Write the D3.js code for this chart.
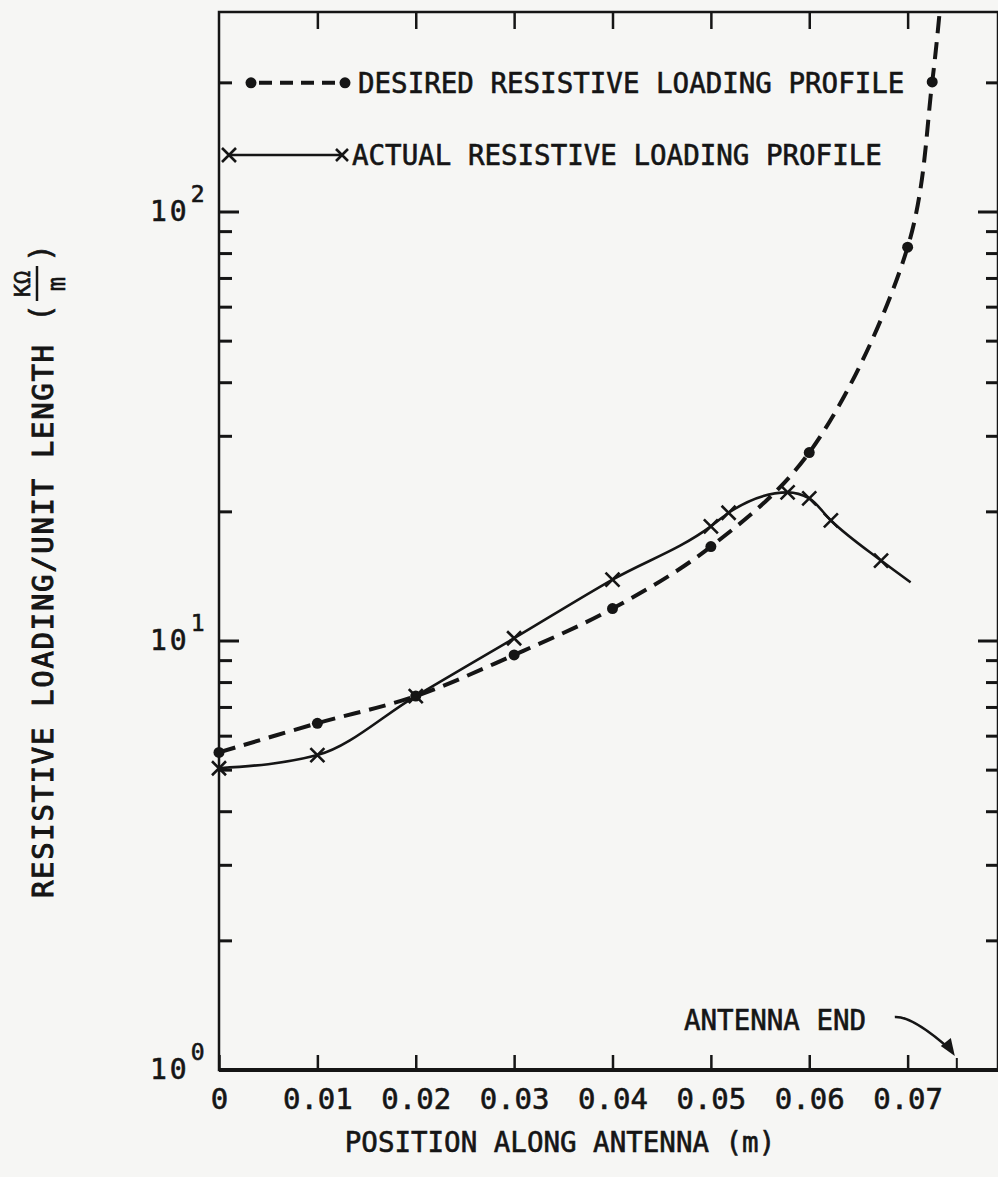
<!DOCTYPE html>
<html>
<head>
<meta charset="utf-8">
<script src="https://cdn.jsdelivr.net/npm/d3@7"></script>
<style>
body { margin: 0; background: #f6f6f4; }
svg { display: block; }
text { font-family: "DejaVu Sans Mono", monospace; fill: #151515; stroke: #151515; stroke-width: 0.6; }
</style>
</head>
<body>
<svg id="chart" width="998" height="1177"></svg>
<script>
// values (K ohm / m against position in m)
var desiredPos = [0, 0.01, 0.02, 0.03, 0.04, 0.05, 0.06, 0.07, 0.0725]
var desired = [5.5, 6.43, 7.44, 9.28, 11.9, 16.6, 27.5, 82.8, 201]
var desiredTail = [[0.0733, 300]] // runs off the top, no dot

var actualPos = [0, 0.01, 0.02, 0.03, 0.04, 0.05, 0.0518, 0.0578, 0.06, 0.0622, 0.0673]
var actual = [5.05, 5.42, 7.44, 10.15, 13.9, 18.5, 19.9, 22.2, 21.5, 19.1, 15.4]
var actualEnd = [[0.0703, 13.7]] // line stops here, no mark

var xTicks = [0, 0.01, 0.02, 0.03, 0.04, 0.05, 0.06, 0.07]
var antennaEnd = 0.075
var decades = [1, 10, 100]
var minors = [2, 3, 4, 5, 6, 7, 8, 9, 20, 30, 40, 50, 60, 70, 80, 90, 200]
var legendLabels = ['DESIRED RESISTIVE LOADING PROFILE', 'ACTUAL RESISTIVE LOADING PROFILE']

var ink = '#151515'
var pLeft = 219, pRight = 998, pTop = 12, pBottom = 1070

var svg = d3.select('#chart')

var x = d3.scaleLinear().domain([0, 0.08]).range([pLeft, 1006])
var y = d3.scaleLog().domain([1, 100]).range([pBottom, 212])

svg.append('clipPath').attr('id', 'plotclip')
    .append('rect').attr('x', pLeft).attr('y', pTop).attr('width', pRight - pLeft).attr('height', pBottom - pTop)

// frame
svg.append('path')
    .attr('d', `M${pLeft},${pTop}H${pRight}V${pBottom}H${pLeft}Z`)
    .attr('fill', 'none').attr('stroke', ink).attr('stroke-width', 2.5)
svg.append('line').attr('x1', pLeft).attr('x2', pRight).attr('y1', pBottom).attr('y2', pBottom)
    .attr('stroke', ink).attr('stroke-width', 4)

// bottom axis: ticks point up, labels below
var xAxis = d3.axisBottom(x).tickValues(xTicks).tickSizeInner(-15).tickSizeOuter(0).tickPadding(18)
    .tickFormat(d => d === 0 ? '0' : d.toFixed(2))
var gx = svg.append('g').attr('transform', `translate(0,${pBottom})`).call(xAxis)
gx.select('.domain').remove()
gx.selectAll('line').attr('stroke', ink).attr('stroke-width', 2.5)
gx.selectAll('text').attr('font-size', 29).attr('font-family', '"DejaVu Sans Mono", monospace').attr('fill', ink)

// small tick for the antenna end
svg.append('line')
    .attr('x1', x(antennaEnd)).attr('x2', x(antennaEnd)).attr('y1', pBottom).attr('y2', pBottom - 12)
    .attr('stroke', ink).attr('stroke-width', 2)

// top axis ticks
var gt = svg.append('g').attr('transform', `translate(0,${pTop})`)
    .call(d3.axisTop(x).tickValues(xTicks.slice(1)).tickSizeInner(-17).tickSizeOuter(0).tickFormat(''))
gt.select('.domain').remove()
gt.selectAll('line').attr('stroke', ink).attr('stroke-width', 2.5)

// log ticks on left and right
var yTicks = decades.slice(1).map(v => ({v: v, major: true}))
    .concat(minors.map(v => ({v: v, major: false})))
svg.selectAll('.ltick').data(yTicks).join('line').attr('class', 'ltick')
    .attr('x1', pLeft).attr('x2', d => pLeft + (d.major ? 20 : 13))
    .attr('y1', d => y(d.v)).attr('y2', d => y(d.v))
    .attr('stroke', ink).attr('stroke-width', 3)
svg.selectAll('.rtick').data(yTicks).join('line').attr('class', 'rtick')
    .attr('x1', pRight).attr('x2', d => pRight - (d.major ? 20 : 12))
    .attr('y1', d => y(d.v)).attr('y2', d => y(d.v))
    .attr('stroke', ink).attr('stroke-width', 3)

// decade labels 10^n
var ylab = svg.selectAll('.ylab').data(decades).join('text').attr('class', 'ylab')
    .attr('x', 150).attr('y', d => y(d) + 9).attr('font-size', 28).attr('letter-spacing', 3)
ylab.append('tspan').text('10')
ylab.append('tspan').attr('dx', 1).attr('dy', -19).attr('font-size', 23).text(d => Math.round(Math.log10(d)))

// curves
var line = d3.line().x(d => x(d[0])).y(d => y(d[1]))
var desiredPts = desiredPos.map((p, i) => [p, desired[i]])
var actualPts = actualPos.map((p, i) => [p, actual[i]])

var plot = svg.append('g').attr('clip-path', 'url(#plotclip)')
plot.append('path')
    .attr('d', line.curve(d3.curveCatmullRom.alpha(0.5))(desiredPts.concat(desiredTail)))
    .attr('fill', 'none').attr('stroke', ink).attr('stroke-width', 4)
    .attr('stroke-dasharray', '17 9')
plot.append('path')
    .attr('d', line.curve(d3.curveMonotoneX)(actualPts.concat(actualEnd)))
    .attr('fill', 'none').attr('stroke', ink).attr('stroke-width', 2.6)

svg.selectAll('.dot').data(desiredPts).join('circle').attr('class', 'dot')
    .attr('cx', d => x(d[0])).attr('cy', d => y(d[1])).attr('r', 5.5).attr('fill', ink)

function cross(sel, cx, cy, s) {
    sel.append('path')
        .attr('d', `M${cx - s},${cy - s}L${cx + s},${cy + s}M${cx - s},${cy + s}L${cx + s},${cy - s}`)
        .attr('stroke', ink).attr('stroke-width', 2.6).attr('fill', 'none')
}
actualPts.forEach(d => cross(svg, x(d[0]), y(d[1]), 7))

// legend
var lg = svg.append('g')
lg.append('line').attr('x1', 251).attr('x2', 345).attr('y1', y(200)).attr('y2', y(200))
    .attr('stroke', ink).attr('stroke-width', 4).attr('stroke-dasharray', '13 8').attr('stroke-dashoffset', -8)
lg.selectAll('.ldot').data([251, 345]).join('circle').attr('class', 'ldot')
    .attr('cx', d => d).attr('cy', y(200)).attr('r', 5.5).attr('fill', ink)
lg.append('line').attr('x1', 229).attr('x2', 342).attr('y1', 155).attr('y2', 155)
    .attr('stroke', ink).attr('stroke-width', 2.6)
cross(lg, 229, 155, 7)
cross(lg, 342, 155, 6)
lg.selectAll('.ltext').data(legendLabels).join('text').attr('class', 'ltext')
    .attr('x', (d, i) => i === 0 ? 358 : 352)
    .attr('y', (d, i) => i === 0 ? y(200) + 10 : 165)
    .attr('font-size', 27.5).text(d => d)

// antenna end note with arrow
svg.append('text').attr('x', 684).attr('y', 1030).attr('font-size', 27.5).text('ANTENNA END')
var tipX = x(antennaEnd)
svg.append('path')
    .attr('d', `M${tipX - 62},${1017} Q${tipX - 44},${1016} ${tipX - 6},${1050}`)
    .attr('fill', 'none').attr('stroke', ink).attr('stroke-width', 2.5)
svg.append('path')
    .attr('d', `M${tipX - 2},${1056} L${tipX - 16},${1046} L${tipX - 6},${1038} Z`)
    .attr('fill', ink)

// axis titles
svg.append('text').attr('x', 560).attr('y', 1152).attr('text-anchor', 'middle')
    .attr('font-size', 27.5).text('POSITION ALONG ANTENNA (m)')

var yt = svg.append('g').attr('transform', 'translate(53,898) rotate(-90)')
yt.append('text').attr('x', 0).attr('y', 0).attr('font-size', 29).attr('textLength', 553)
    .style('stroke-width', 1).text('RESISTIVE LOADING/UNIT LENGTH')
yt.append('text').attr('x', 576).attr('y', -2).attr('font-size', 30).text('(')
yt.append('text').attr('x', 636).attr('y', -2).attr('font-size', 30).text(')')
yt.append('line').attr('x1', 597).attr('x2', 632).attr('y1', -16).attr('y2', -16)
    .attr('stroke', ink).attr('stroke-width', 2.5)
yt.append('text').attr('x', 614).attr('y', -23).attr('text-anchor', 'middle').attr('font-size', 22).text('KΩ')
yt.append('text').attr('x', 614).attr('y', 12).attr('text-anchor', 'middle').attr('font-size', 24).text('m')
</script>
</body>
</html>
